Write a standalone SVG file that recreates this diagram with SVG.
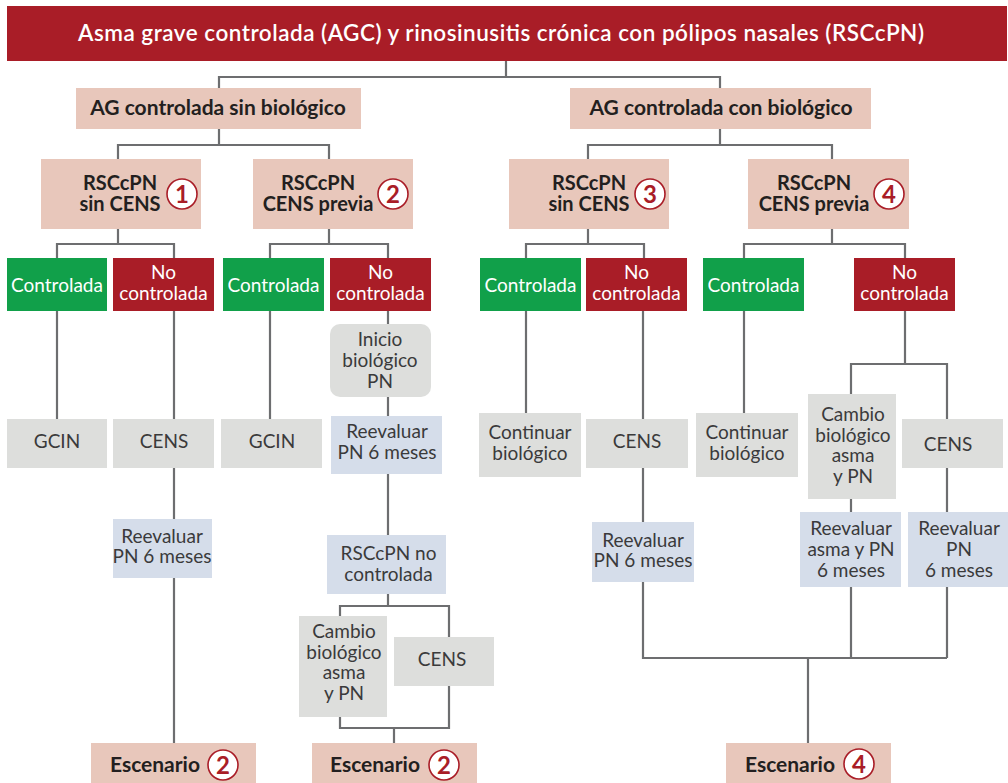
<svg xmlns="http://www.w3.org/2000/svg" width="1008" height="783" viewBox="0 0 1008 783">
<style>
.bg{fill:#ffffff}
.title{fill:#A91D27}
.pink{fill:#E8C7BB}
.gray{fill:#DDDEDC}
.blue{fill:#D5DDEA}
.green{fill:#11A04A}
.red{fill:#A91D27}
.ln{fill:none;stroke:#6D6E70;stroke-width:2.2}
text{font-family:Lato,"Open Sans","Liberation Sans",sans-serif;text-anchor:middle}
.tt{fill:#ffffff;font-size:22.5px;font-weight:600}
.hb{fill:#231F20;font-size:20px;font-weight:700}
.hb2{fill:#231F20;font-size:21px;font-weight:700}
.lt{fill:#3A3A3B;font-size:19px;font-weight:400}
.wt{fill:#ffffff;font-size:19px;font-weight:400}
.cc{fill:#ffffff;stroke:#A91D27;stroke-width:1.6}
.cn{fill:#A91D27;font-size:24px;font-weight:700}
</style>
<rect class="bg" x="0" y="0" width="1008" height="783"/>

<g id="connectors">
<path class="ln" d="M506,61V77M219,88V77H720V88"/>
<path class="ln" d="M219,129V145M118,159V145H329V159"/>
<path class="ln" d="M720,129V145M588,159V145H832V159"/>
<path class="ln" d="M118,229V244M57,258V244H174V258"/>
<path class="ln" d="M329,229V244M270,258V244H388V258"/>
<path class="ln" d="M588,229V244M526,258V244H644V258"/>
<path class="ln" d="M832,229V244M744,258V244H905V258"/>
<path class="ln" d="M57,311V419"/>
<path class="ln" d="M174,311V419M174,468V519M174,578V743"/>
<path class="ln" d="M270,311V419"/>
<path class="ln" d="M388,311V324M388,397V416M388,474V535M388,594V606M340,616V606H449V637"/>
<path class="ln" d="M340,717V728H449V686M394,728V743"/>
<path class="ln" d="M526,311V413"/>
<path class="ln" d="M643,311V419M643,468V522M643,582V658H947"/>
<path class="ln" d="M744,311V413"/>
<path class="ln" d="M905,311V364M851,394V364H947V419"/>
<path class="ln" d="M851,499V512M947,468V512M851,587V658M947,587V658M808,658V743"/>
</g>

<g id="title">
<rect class="title" x="7" y="6" width="1000" height="55"/>
<text class="tt" x="501" y="41" textLength="846">Asma grave controlada (AGC) y rinosinusitis crónica con pólipos nasales (RSCcPN)</text>
</g>

<g id="ag-sin">
<rect class="pink" x="76" y="88" width="285" height="41"/>
<text class="hb2" x="218" y="115">AG controlada sin biológico</text>
</g>
<g id="ag-con">
<rect class="pink" x="570" y="88" width="301" height="41"/>
<text class="hb2" x="721" y="115">AG controlada con biológico</text>
</g>

<g id="rsc1">
<rect class="pink" x="41" y="159" width="160" height="70"/>
<text class="hb"><tspan x="120" y="190">RSCcPN</tspan><tspan x="120" y="211">sin CENS</tspan></text>
<circle class="cc" cx="182" cy="194" r="15"/>
<text class="cn" x="182" y="203">1</text>
</g>
<g id="rsc2">
<rect class="pink" x="253" y="159" width="160" height="70"/>
<text class="hb"><tspan x="318" y="190">RSCcPN</tspan><tspan x="318" y="211">CENS previa</tspan></text>
<circle class="cc" cx="393" cy="194" r="15"/>
<text class="cn" x="393" y="203">2</text>
</g>
<g id="rsc3">
<rect class="pink" x="509" y="159" width="160" height="70"/>
<text class="hb"><tspan x="589" y="190">RSCcPN</tspan><tspan x="589" y="211">sin CENS</tspan></text>
<circle class="cc" cx="650" cy="194" r="15"/>
<text class="cn" x="650" y="203">3</text>
</g>
<g id="rsc4">
<rect class="pink" x="748" y="159" width="161" height="70"/>
<text class="hb"><tspan x="814" y="190">RSCcPN</tspan><tspan x="814" y="211">CENS previa</tspan></text>
<circle class="cc" cx="889" cy="194" r="15"/>
<text class="cn" x="889" y="203">4</text>
</g>

<g id="c1"><rect class="green" x="7" y="258" width="100" height="53"/><text class="wt" x="57" y="292">Controlada</text></g>
<g id="nc1"><rect class="red" x="113" y="258" width="101" height="53"/><text class="wt"><tspan x="163.5" y="279">No</tspan><tspan x="163.5" y="300">controlada</tspan></text></g>
<g id="c2"><rect class="green" x="223" y="258" width="101" height="53"/><text class="wt" x="273.5" y="292">Controlada</text></g>
<g id="nc2"><rect class="red" x="330" y="258" width="101" height="53"/><text class="wt"><tspan x="380.5" y="279">No</tspan><tspan x="380.5" y="300">controlada</tspan></text></g>
<g id="c3"><rect class="green" x="480" y="258" width="101" height="53"/><text class="wt" x="530.5" y="292">Controlada</text></g>
<g id="nc3"><rect class="red" x="586" y="258" width="101" height="53"/><text class="wt"><tspan x="636.5" y="279">No</tspan><tspan x="636.5" y="300">controlada</tspan></text></g>
<g id="c4"><rect class="green" x="703" y="258" width="101" height="53"/><text class="wt" x="753.5" y="292">Controlada</text></g>
<g id="nc4"><rect class="red" x="854" y="258" width="101" height="53"/><text class="wt"><tspan x="904.5" y="279">No</tspan><tspan x="904.5" y="300">controlada</tspan></text></g>

<g id="gcin1"><rect class="gray" x="7" y="419" width="100" height="49"/><text class="lt" x="57" y="448">GCIN</text></g>
<g id="cens1"><rect class="gray" x="113" y="419" width="101" height="49"/><text class="lt" x="164" y="448">CENS</text></g>
<g id="reev1"><rect class="blue" x="113" y="519" width="99" height="59"/><text class="lt"><tspan x="162" y="543">Reevaluar</tspan><tspan x="162" y="563">PN 6 meses</tspan></text></g>
<g id="esc1"><rect class="pink" x="91" y="743" width="165" height="42"/><text class="hb2" x="155" y="772">Escenario</text><circle class="cc" cx="223" cy="765" r="15"/><text class="cn" x="223" y="774">2</text></g>

<g id="gcin2"><rect class="gray" x="221" y="419" width="101" height="49"/><text class="lt" x="272" y="448">GCIN</text></g>
<g id="inicio"><rect class="gray" x="330" y="324" width="101" height="73" rx="10"/><text class="lt"><tspan x="380" y="346">Inicio</tspan><tspan x="380" y="367">biológico</tspan><tspan x="380" y="388">PN</tspan></text></g>
<g id="reev2"><rect class="blue" x="331" y="416" width="111" height="58"/><text class="lt"><tspan x="387" y="438">Reevaluar</tspan><tspan x="387" y="459">PN 6 meses</tspan></text></g>
<g id="rscnc"><rect class="blue" x="327" y="535" width="119" height="59"/><text class="lt"><tspan x="388.5" y="560">RSCcPN no</tspan><tspan x="388.5" y="581">controlada</tspan></text></g>
<g id="cambio1"><rect class="gray" x="299" y="616" width="88" height="101"/><text class="lt"><tspan x="344" y="638">Cambio</tspan><tspan x="344" y="659">biológico</tspan><tspan x="344" y="679">asma</tspan><tspan x="344" y="700">y PN</tspan></text></g>
<g id="cens2"><rect class="gray" x="394" y="637" width="100" height="49"/><text class="lt" x="442" y="666">CENS</text></g>
<g id="esc2"><rect class="pink" x="312" y="743" width="165" height="42"/><text class="hb2" x="375" y="772">Escenario</text><circle class="cc" cx="444" cy="765" r="15"/><text class="cn" x="444" y="774">2</text></g>

<g id="cont1"><rect class="gray" x="479" y="413" width="102" height="64"/><text class="lt"><tspan x="530" y="439">Continuar</tspan><tspan x="530" y="460">biológico</tspan></text></g>
<g id="cens3"><rect class="gray" x="586" y="419" width="102" height="49"/><text class="lt" x="637" y="448">CENS</text></g>
<g id="reev3"><rect class="blue" x="592" y="522" width="102" height="60"/><text class="lt"><tspan x="643" y="547">Reevaluar</tspan><tspan x="643" y="567">PN 6 meses</tspan></text></g>

<g id="cont2"><rect class="gray" x="696" y="413" width="102" height="64"/><text class="lt"><tspan x="747" y="439">Continuar</tspan><tspan x="747" y="460">biológico</tspan></text></g>
<g id="cambio2"><rect class="gray" x="808" y="394" width="88" height="105"/><text class="lt"><tspan x="853" y="421">Cambio</tspan><tspan x="853" y="442">biológico</tspan><tspan x="853" y="462">asma</tspan><tspan x="853" y="483">y PN</tspan></text></g>
<g id="reev4"><rect class="blue" x="800" y="512" width="101" height="75"/><text class="lt"><tspan x="851" y="535">Reevaluar</tspan><tspan x="851" y="556">asma y PN</tspan><tspan x="851" y="577">6 meses</tspan></text></g>
<g id="cens4"><rect class="gray" x="902" y="419" width="101" height="49"/><text class="lt" x="948" y="451">CENS</text></g>
<g id="reev5"><rect class="blue" x="908" y="512" width="100" height="75"/><text class="lt"><tspan x="959" y="535">Reevaluar</tspan><tspan x="959" y="556">PN</tspan><tspan x="959" y="577">6 meses</tspan></text></g>
<g id="esc4"><rect class="pink" x="726" y="743" width="165" height="42"/><text class="hb2" x="790" y="772">Escenario</text><circle class="cc" cx="859" cy="764" r="15"/><text class="cn" x="859" y="773">4</text></g>
</svg>
